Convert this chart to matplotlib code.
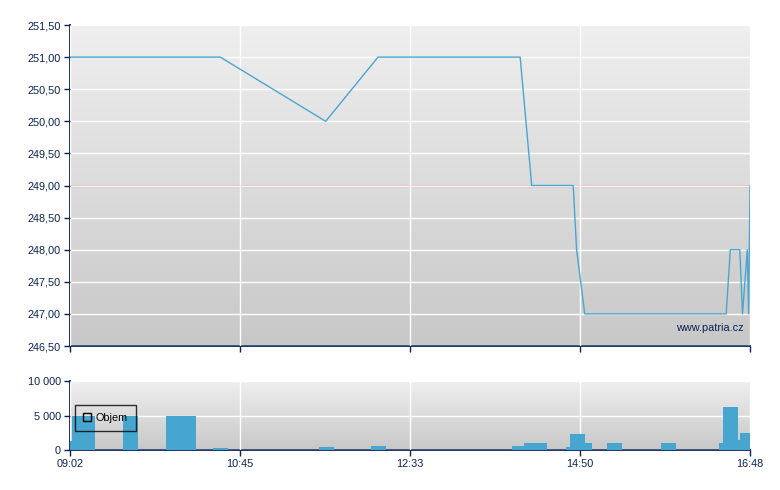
import numpy as np
import matplotlib
matplotlib.use('Agg')
import matplotlib.pyplot as plt
from matplotlib.patches import Patch
from matplotlib.ticker import FuncFormatter

plt.rcParams['font.family'] = ['Liberation Sans', 'DejaVu Sans']

# x axis: position along the session (0..100), labelled by time
tick_pos = [0, 25, 50, 75, 100]
tick_labels = ['09:02', '10:45', '12:33', '14:50', '16:48']

# price line
price_x = [0.0, 22.1, 37.6, 45.3, 66.2, 67.9, 74.0, 74.5, 75.7, 96.5, 97.1, 98.5, 98.9, 99.6, 99.8, 100.0]
price_y = [251.0, 251.0, 250.0, 251.0, 251.0, 249.0, 249.0, 248.0, 247.0, 247.0, 248.0, 248.0, 247.0, 248.0, 247.0, 249.0]
prev_close = 249.0

# volume bars (start, end, volume)
vol_start = [0.0, 0.3, 7.8, 14.1, 21.0, 36.6, 44.3, 65.0, 66.8, 72.9, 73.5, 75.7, 79.0, 86.9, 95.4, 96.1, 98.2, 98.5]
vol_end = [0.3, 3.7, 9.95, 18.5, 23.2, 38.8, 46.4, 66.8, 70.1, 73.5, 75.7, 76.8, 81.2, 89.1, 96.1, 98.2, 98.5, 100.0]
volume = [1300, 5000, 5000, 5000, 300, 430, 580, 580, 1000, 430, 2300, 1000, 1000, 1000, 1000, 6200, 1450, 2450]

navy = '#0b2255'
line_col = '#4aa6d0'
bar_col = '#47a6cf'


def gradient_bg(ax, top='#efefef', bottom='#c8c8c8'):
    c1 = np.array(matplotlib.colors.to_rgb(top))
    c2 = np.array(matplotlib.colors.to_rgb(bottom))
    t = np.linspace(0, 1, 256)[:, None]
    img = (c1 * (1 - t) + c2 * t)[:, None, :]
    ax.imshow(img, extent=[0, 1, 0, 1], transform=ax.transAxes, aspect='auto', zorder=0)


def style_axes(ax):
    for s in ['top', 'right']:
        ax.spines[s].set_visible(False)
    for s in ['left', 'bottom']:
        ax.spines[s].set_color(navy)
        ax.spines[s].set_linewidth(1.3)
    ax.tick_params(colors=navy, labelcolor=navy, labelsize=7.8, length=4, width=1, pad=2.5)
    ax.set_xlim(0, 100)
    ax.set_xticks(tick_pos)
    ax.grid(True, color='white', linewidth=1, zorder=1)
    ax.set_axisbelow(False)


fig = plt.figure(figsize=(7.8, 4.9), dpi=100)
ax = fig.add_axes([70 / 780, 1 - 346 / 490, 680 / 780, 321 / 490])
axv = fig.add_axes([70 / 780, 1 - 450 / 490, 680 / 780, 69 / 490])

# price chart
gradient_bg(ax)
style_axes(ax)
ax.set_ylim(246.5, 251.5)
ax.set_yticks(np.arange(246.5, 251.51, 0.5))
ax.yaxis.set_major_formatter(FuncFormatter(lambda v, p: f'{v:.2f}'.replace('.', ',')))
ax.set_xticklabels([])
ax.axhline(prev_close, color='#b83a30', linewidth=1, zorder=2)
ax.plot(price_x, price_y, color=line_col, linewidth=1, zorder=3)
ax.text(0.99, 0.055, 'www.patria.cz', transform=ax.transAxes, ha='right', va='center',
        color=navy, fontsize=7.8, zorder=4)

# volume chart
gradient_bg(axv)
style_axes(axv)
axv.set_ylim(0, 10000)
axv.set_yticks([0, 5000, 10000])
axv.yaxis.set_major_formatter(FuncFormatter(lambda v, p: f'{int(v):,}'.replace(',', ' ')))
axv.set_xticklabels(tick_labels)
axv.bar(vol_start, volume, width=np.array(vol_end) - np.array(vol_start), align='edge',
        color=bar_col, linewidth=0, zorder=3)
leg = axv.legend(handles=[Patch(facecolor='none', edgecolor='black', linewidth=1)], labels=['Objem'],
                 loc='upper left', bbox_to_anchor=(0.0074, 0.652), fontsize=7.8, fancybox=False,
                 handlelength=0.72, handleheight=0.72, handletextpad=0.45, borderpad=0.75,
                 borderaxespad=0)
leg.get_frame().set_facecolor('none')
leg.get_frame().set_edgecolor('black')
leg.get_frame().set_linewidth(1)
leg.set_zorder(5)

fig.savefig('out.png', dpi=100)
